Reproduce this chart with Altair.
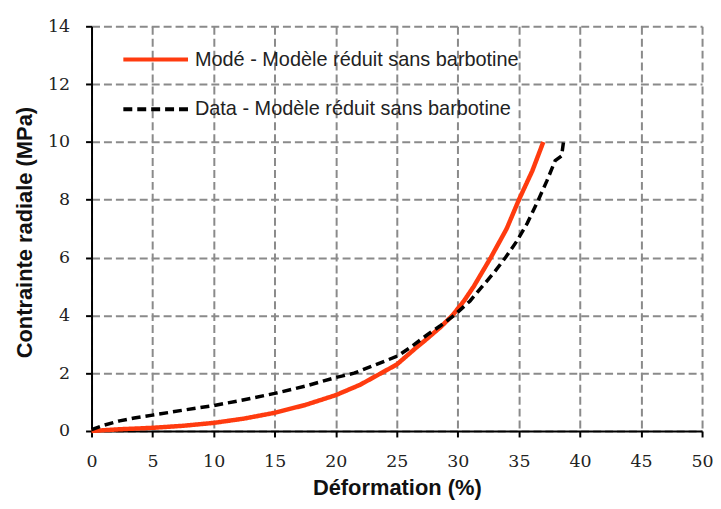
import altair as alt
import pandas as pd

# --- data ---
model_label = "Modé - Modèle réduit sans barbotine"
data_label = "Data - Modèle réduit sans barbotine"

model_x = [0, 2.3, 5, 7.5, 10, 12.5, 15, 17.5, 20, 22, 23.5, 25, 26.5, 27.5, 28.6, 29.56,
           30.5, 31.3, 32.0, 32.7, 34.0, 35.0, 36.1, 37.0]
model_y = [0, 0.06, 0.11, 0.18, 0.28, 0.43, 0.63, 0.9, 1.24, 1.6, 1.95, 2.3, 2.85, 3.2, 3.6, 4.0,
           4.5, 5.0, 5.5, 6.0, 7.0, 8.0, 9.0, 10.0]

data_x = [0, 1, 2.3, 3.5, 5, 7.5, 10, 12.5, 15, 17.5, 20, 21.5, 23.5, 25.1, 26.3, 27.5, 28.6,
          29.7, 31.0, 32.0, 33.0, 33.9, 34.8, 35.7, 36.6, 37.3, 37.97, 38.5, 38.65]
data_y = [0.05, 0.2, 0.35, 0.45, 0.55, 0.72, 0.88, 1.08, 1.3, 1.55, 1.85, 2.0, 2.33, 2.6, 2.95,
          3.33, 3.65, 4.0, 4.5, 5.0, 5.5, 6.0, 6.55, 7.2, 8.0, 8.66, 9.35, 9.52, 10.0]

x_ticks = list(range(0, 51, 5))
y_ticks = list(range(0, 15, 2))

series_order = [model_label, data_label]
series_colors = ["#FF3B0F", "#000000"]
series_dash = [[1, 0], [9, 5]]

df = pd.concat([
    pd.DataFrame({"x": model_x, "y": model_y, "series": model_label, "i": range(len(model_x))}),
    pd.DataFrame({"x": data_x, "y": data_y, "series": data_label, "i": range(len(data_x))}),
])

W, H = 614, 407

legend_opts = dict(
    title=None, orient="none", legendX=50, legendY=19,
    symbolType="M-2.6,0L2.6,0", symbolSize=625, symbolStrokeWidth=4,
    labelFont="Liberation Sans", labelFontSize=20, labelColor="#222", labelLimit=0,
    labelOffset=25, rowPadding=25, padding=0,
)

x_enc = alt.X(
    "x:Q",
    scale=alt.Scale(domain=[0, 50], nice=False),
    axis=alt.Axis(
        values=x_ticks, title="Déformation (%)",
        titleX=W / 2, titleY=57, titleBaseline="middle", titleAlign="center",
    ),
)
y_enc = alt.Y(
    "y:Q",
    scale=alt.Scale(domain=[0, 14], nice=False),
    axis=alt.Axis(
        values=y_ticks, title="Contrainte radiale (MPa)",
        titleX=-67, titleY=207, titleAngle=270, titleBaseline="middle", titleAlign="center",
    ),
)
color_enc = alt.Color(
    "series:N",
    scale=alt.Scale(domain=series_order, range=series_colors),
    legend=alt.Legend(**legend_opts),
)
dash_enc = alt.StrokeDash(
    "series:N",
    scale=alt.Scale(domain=series_order, range=series_dash),
    legend=alt.Legend(**legend_opts),
)

base = alt.Chart(df).encode(x=x_enc, y=y_enc, color=color_enc, strokeDash=dash_enc, order="i:Q")

model_line = base.transform_filter(alt.datum.series == model_label).mark_line(strokeWidth=4.5)
data_line = base.transform_filter(alt.datum.series == data_label).mark_line(strokeWidth=3.5)

chart = (
    alt.layer(model_line, data_line)
    .properties(
        width=W, height=H,
        autosize=alt.AutoSizeParams(type="none"),
        padding={"left": 84, "top": 17, "right": 11, "bottom": 69},
        background="white",
    )
    .configure_view(stroke=None)
    .configure_axis(
        grid=True, gridColor="#8a8a8a", gridDash=[8, 4], gridWidth=2,
        domainColor="black", domainWidth=2,
        tickColor="black", tickWidth=2, tickSize=6,
        labelFont="DejaVu Serif", labelFontSize=17.5, labelColor="#222", labelPadding=16,
        labelFlush=False, labelOverlap=False,
        titleFont="Liberation Sans", titleFontSize=22, titleFontWeight="bold", titleColor="#111",
    )
)

chart.save("out.html", embed_options={"renderer": "svg", "actions": False})
